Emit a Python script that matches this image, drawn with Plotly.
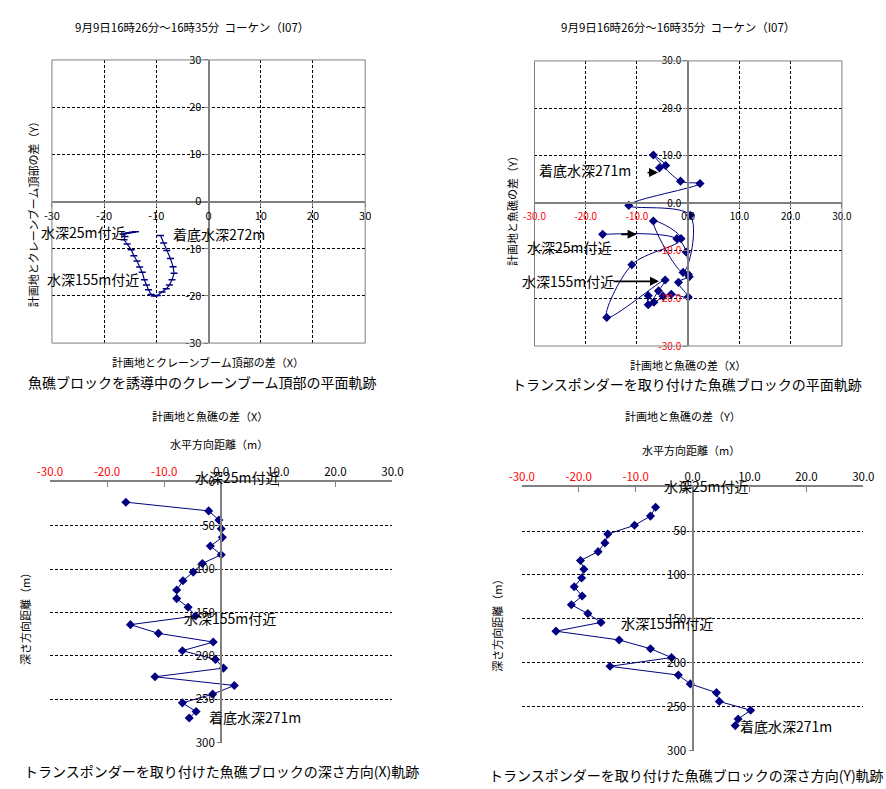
import plotly.graph_objects as go

# ---------------------------------------------------------------- data
# Transponder samples (every ~10 m of descent): depth and offset from plan point
depth_m = [23, 33, 43.5, 53.5, 63.5, 73.5, 83.5, 93.5, 103.5, 113.5, 124, 134, 144,
           154, 164, 174, 184, 194, 204, 214, 224, 234, 244, 254, 264, 271.5]
diff_x = [-16.7, -2.2, -0.4, 0.0, 0.2, -1.9, 0.0, -3.3, -4.9, -6.7, -7.8, -7.8, -5.8,
          -4.5, -15.9, -11.0, -1.4, -6.8, -1.0, 0.4, -11.6, 2.3, -1.5, -6.8, -4.4, -5.6]
diff_y = [-6.5, -7.4, -10.2, -14.9, -15.4, -16.6, -19.7, -19.1, -19.5, -20.8, -19.4, -21.3, -18.4,
          -16.1, -24.0, -12.9, -7.4, -3.7, -14.5, -2.5, -0.4, 4.2, 4.7, 10.2, 8.0, 7.5]

# Crane boom top offset from plan point during guiding
crane_x = [-14.0, -14.6, -15.2, -15.8, -16.4, -16.0, -16.2, -15.6, -14.8, -14.3, -13.7, -13.2,
           -12.7, -12.3, -11.9, -11.5, -11.0, -10.4, -9.8, -8.9, -8.1, -7.5, -7.0, -6.6,
           -6.8, -7.3, -8.0, -8.6, -9.2]
crane_y = [-6.4, -6.5, -6.6, -6.7, -6.9, -7.4, -8.1, -9.0, -10.2, -11.5, -12.6, -13.9,
           -15.0, -16.6, -17.7, -18.7, -19.7, -20.0, -19.9, -19.2, -18.5, -17.7, -16.6, -15.2,
           -13.8, -12.1, -10.4, -8.8, -7.2]

plan_ticks = [-30, -20, -10, 0, 10, 20, 30]
depth_ticks = [0, 50, 100, 150, 200, 250, 300]

title_text = "9月9日16時26分～16時35分\u00a0\u00a0コーケン（I07）"

# ---------------------------------------------------------------- helpers
W, H = 886, 789
FONT = "Noto Sans CJK JP"
NAVY = "#000080"
GRAY = "#808080"


def fx(px):
    return px / W


def fy(py):
    return 1 - py / H


def red_neg(v, fmt):
    s = fmt.format(v)
    return f'<span style="color:#ff0000">{s}</span>' if v < 0 else s


def plan_axis(dom, pos, labels, size):
    return dict(domain=dom, range=[-30, 30], anchor="free", position=pos,
                tickvals=plan_ticks, ticktext=labels, tickfont=dict(size=size, color="black"),
                showgrid=True, gridcolor="black", griddash="3px,2px", gridwidth=1,
                zeroline=False, showline=True, linecolor=GRAY, linewidth=2,
                ticks="outside", ticklen=4, tickcolor=GRAY, fixedrange=True)


fig = go.Figure()

# ---------------------------------------------------------------- traces
fig.add_trace(go.Scatter(x=crane_x, y=crane_y, xaxis="x", yaxis="y", mode="lines+markers",
                         line=dict(color=NAVY, width=1.2),
                         marker=dict(symbol="line-ew", size=5, line=dict(color=NAVY, width=1.5)),
                         showlegend=False))
fig.add_trace(go.Scatter(x=diff_x, y=diff_y, xaxis="x2", yaxis="y2", mode="lines+markers",
                         line=dict(color=NAVY, width=1, shape="spline", smoothing=1.0),
                         marker=dict(symbol="diamond", size=7, color=NAVY),
                         showlegend=False))
fig.add_trace(go.Scatter(x=diff_x, y=depth_m, xaxis="x3", yaxis="y3", mode="lines+markers",
                         line=dict(color=NAVY, width=1),
                         marker=dict(symbol="diamond", size=7, color=NAVY),
                         showlegend=False))
fig.add_trace(go.Scatter(x=diff_y, y=depth_m, xaxis="x4", yaxis="y4", mode="lines+markers",
                         line=dict(color=NAVY, width=1),
                         marker=dict(symbol="diamond", size=7, color=NAVY),
                         showlegend=False))

# ---------------------------------------------------------------- axes
tl_x = [fx(40), fx(362)]
tl_y = [fy(341), fy(52)]
tr_x = [fx(536), fx(852)]
tr_y = [fy(344), fy(53)]
bl_x = [fx(38), fx(390)]
bl_y = [fy(749), fy(483)]
br_x = [fx(523), fx(874)]
br_y = [fy(757), fy(488)]

int_labels = [str(v) for v in plan_ticks]
dec_labels = [red_neg(v, "{:.1f}") for v in plan_ticks]

fig.update_layout(
    xaxis=plan_axis(tl_x, fy(196.5), int_labels, 11),
    yaxis=plan_axis(tl_y, fx(201), int_labels, 11),
    xaxis2=plan_axis(tr_x, fy(198.5), dec_labels, 10),
    yaxis2=plan_axis(tr_y, fx(694), dec_labels, 10),
)


def depth_axes(xdom, ydom, zero_px):
    xa = dict(domain=xdom, range=[-30, 30], anchor=None, side="top",
              tickvals=plan_ticks, ticktext=dec_labels, tickfont=dict(size=11.5, color="black"),
              showgrid=False, zeroline=False, showline=True, linecolor=GRAY, linewidth=1.5,
              ticks="inside", ticklen=5, tickcolor=GRAY, fixedrange=True)
    ya = dict(domain=ydom, range=[300, 0], anchor="free", position=fx(zero_px),
              tickvals=depth_ticks, ticktext=[str(v) for v in depth_ticks],
              tickfont=dict(size=11.5, color="black"),
              showgrid=True, gridcolor="black", griddash="3px,2px", gridwidth=1,
              zeroline=False, showline=True, linecolor=GRAY, linewidth=2,
              ticks="outside", ticklen=3, tickcolor=GRAY, fixedrange=True)
    return xa, ya


xa3, ya3 = depth_axes(bl_x, bl_y, 214)
xa3["anchor"] = "y3"
xa4, ya4 = depth_axes(br_x, br_y, 698.5)
xa4["anchor"] = "y4"
fig.update_layout(xaxis3=xa3, yaxis3=ya3, xaxis4=xa4, yaxis4=ya4)

# plot-area frames of the two plan views
for xd, yd in [(tl_x, tl_y), (tr_x, tr_y)]:
    fig.add_shape(type="rect", xref="paper", yref="paper", x0=xd[0], x1=xd[1], y0=yd[0], y1=yd[1],
                  line=dict(color=GRAY, width=1), layer="above")

# ---------------------------------------------------------------- text
annotations = []


def text(px, py, s, size, angle=0):
    annotations.append(dict(x=fx(px), y=fy(py), xref="paper", yref="paper", text=s,
                            showarrow=False, xanchor="center", yanchor="middle",
                            textangle=angle, font=dict(size=size, color="black", family=FONT)))


def arrow(x0, y0, x1, y1):
    annotations.append(dict(x=fx(x1), y=fy(y1), xref="paper", yref="paper", text="",
                            showarrow=True, ax=x0 - x1, ay=y0 - y1, axref="pixel", ayref="pixel",
                            arrowhead=2, arrowsize=1, arrowwidth=1.8, arrowcolor="black"))


# plan view: crane boom top
text(184, 18, title_text, 11.5)
text(200, 360, "計画地とクレーンブーム頂部の差（X）", 11)
text(194, 381, "魚礁ブロックを誘導中のクレーンブーム頂部の平面軌跡", 14)
text(20, 206, "計画地とクレーンブーム頂部の差（Y）", 11, -90)
text(72, 228, "水深25m付近", 14)
text(212, 230, "着底水深272m", 14)
text(82, 276, "水深155m付近", 14)

# plan view: transponder
text(684, 18, title_text, 11.5)
text(694, 363, "計画地と魚礁の差（X）", 11)
text(693, 383, "トランスポンダーを取り付けた魚礁ブロックの平面軌跡", 14)
text(513, 203, "計画地と魚礁の差（Y）", 11, -90)
text(588, 164, "着底水深271m", 14)
text(572, 243, "水深25m付近", 14)
text(570, 278, "水深155m付近", 14)
arrow(651, 167, 663, 167)
arrow(624, 230, 641, 230)
arrow(617, 278, 664, 278)

# depth profile: X
text(202, 415, "計画地と魚礁の差（X）", 11)
text(212, 444, "水平方向距離（m）", 11)
text(214, 778, "トランスポンダーを取り付けた魚礁ブロックの深さ方向(X)軌跡", 14)
text(13, 620, "深さ方向距離（m）", 11, -90)
text(231, 478, "水深25m付近", 14)
text(223, 622, "水深155m付近", 14)
text(249, 723, "着底水深271m", 14)

# depth profile: Y
text(689, 415, "計画地と魚礁の差（Y）", 11)
text(697, 450, "水平方向距離（m）", 11)
text(692, 782, "トランスポンダーを取り付けた魚礁ブロックの深さ方向(Y)軌跡", 14)
text(498, 627, "深さ方向距離（m）", 11, -90)
text(713, 487, "水深25m付近", 14)
text(672, 627, "水深155m付近", 14)
text(795, 732, "着底水深271m", 14)

fig.update_layout(
    width=W, height=H, margin=dict(l=0, r=0, t=0, b=0),
    paper_bgcolor="white", plot_bgcolor="white",
    font=dict(family=FONT, color="black"),
    annotations=annotations, showlegend=False,
)

fig.write_html("out.html", config={"displayModeBar": False})
